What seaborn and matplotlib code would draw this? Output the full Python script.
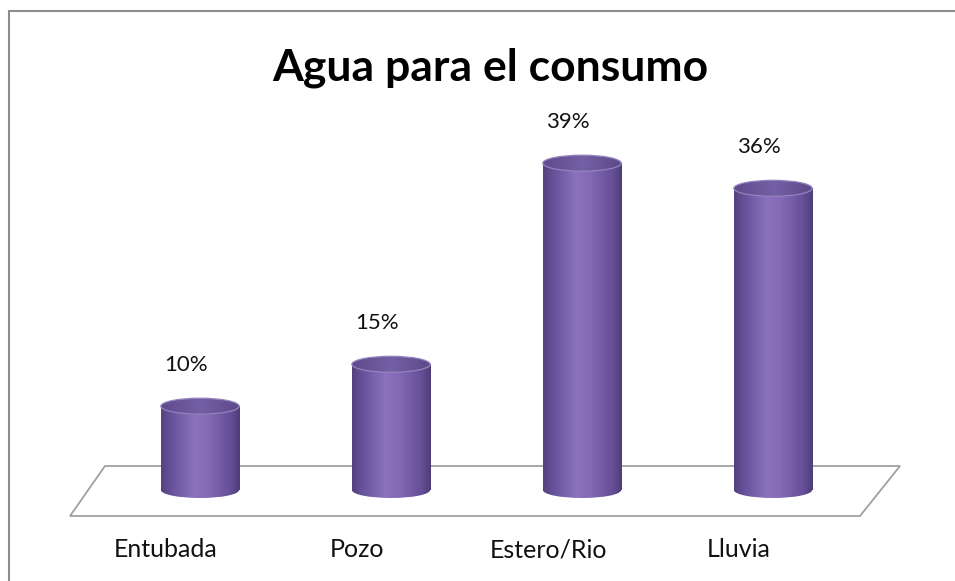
import numpy as np
import pandas as pd
import matplotlib
matplotlib.use("Agg")
import matplotlib.pyplot as plt
import matplotlib.transforms as mtransforms
import seaborn as sns
from matplotlib.patches import Ellipse, Polygon
from matplotlib.colors import LinearSegmentedColormap
from matplotlib.lines import Line2D

categories = ["Entubada", "Pozo", "Estero/Rio", "Lluvia"]
values = [10, 15, 39, 36]
value_labels = ["10%", "15%", "39%", "36%"]
title = "Agua para el consumo"

sns.set_theme(style="white")
plt.rcParams["font.family"] = ["Lato", "DejaVu Sans"]

W, H = 955, 581
fig = plt.figure(figsize=(W / 100, H / 100), dpi=100)
fig.patch.set_facecolor("white")

# pixel mapping
x0px, dxpx = 200.0, 191.0
y0px, sy = 490.0, 8.38
ax_bottom_px = 530.0
ax = fig.add_axes([0, 1 - ax_bottom_px / H, 1, ax_bottom_px / H])

def px(xp, yp):
    return ((xp - x0px) / dxpx, (y0px - yp) / sy)

df = pd.DataFrame({"cat": categories, "val": values})
bw = 0.41
sns.barplot(data=df, x="cat", y="val", order=categories, width=bw,
            color="#7a62a8", ax=ax, zorder=2, linewidth=0)
ax.set_xlim(-x0px / dxpx, (W - x0px) / dxpx)
ax.set_ylim((y0px - ax_bottom_px) / sy, y0px / sy)

# floor
floor = Polygon([px(105, 466), px(900, 466), px(860, 516), px(70, 516)],
                closed=True, facecolor="white", edgecolor="#a0a0a0", lw=1.3, zorder=1)
ax.add_patch(floor)

cmap = LinearSegmentedColormap.from_list(
    "cyl", [(0.0, "#54417c"), (0.12, "#65509a"), (0.42, "#8c72bd"),
            (0.6, "#8469b4"), (0.88, "#654f97"), (1.0, "#4f3d78")])
cmap_top = LinearSegmentedColormap.from_list(
    "cyltop", [(0.0, "#5e4a8c"), (0.5, "#7460a4"), (1.0, "#5c4888")])
grad = np.linspace(0, 1, 256).reshape(1, -1)
ell_h = 16.0 / sy

lbl_off = mtransforms.ScaledTranslation(-14 / 100, 0, fig.dpi_scale_trans)
for i, p in enumerate(ax.containers[0].patches):
    x = p.get_x(); w = p.get_width(); h = p.get_height()
    p.set_alpha(0)
    # body gradient
    im = ax.imshow(grad, cmap=cmap, aspect="auto",
                   extent=(x, x + w, -ell_h / 2 - 0.2, h), zorder=3)
    body = plt.Rectangle((x, 0), w, h, transform=ax.transData)
    im.set_clip_path(body)
    im2 = ax.imshow(grad, cmap=cmap, aspect="auto",
                    extent=(x, x + w, -ell_h / 2 - 0.2, 0.5), zorder=3)
    bot = Ellipse((x + w / 2, 0), w, ell_h, transform=ax.transData)
    im2.set_clip_path(bot)
    # top cap
    im3 = ax.imshow(grad, cmap=cmap_top, aspect="auto",
                    extent=(x, x + w, h - ell_h / 2, h + ell_h / 2), zorder=4)
    top = Ellipse((x + w / 2, h), w, ell_h, transform=ax.transData)
    im3.set_clip_path(top)
    ax.add_patch(Ellipse((x + w / 2, h), w, ell_h, facecolor="none",
                         edgecolor="#9483bd", lw=0.9, zorder=5))
    ax.text(x + w / 2, h + 4.9, value_labels[i], ha="center", va="center",
            fontsize=16, color="#111111", zorder=6,
            transform=ax.transData + lbl_off)

ax.set_xlim(-x0px / dxpx, (W - x0px) / dxpx)
ax.set_ylim((y0px - ax_bottom_px) / sy, y0px / sy)
ax.set_xlabel(""); ax.set_ylabel("")
ax.set_yticks([])
ax.set_xticks(range(len(categories)))
ax.set_xticklabels(categories, fontsize=18, color="#111111")
ax.tick_params(axis="x", length=0, pad=6)
tick_off = mtransforms.ScaledTranslation(-34 / 100, 0, fig.dpi_scale_trans)
for t in ax.get_xticklabels():
    t.set_transform(t.get_transform() + tick_off)
for s in ax.spines.values():
    s.set_visible(False)
ax.set_facecolor("none")

fig.text(490 / W, 1 - 68 / H, title, ha="center", va="center",
         fontsize=32, fontweight="bold", color="#000000")

# outer frame lines (top and left)
fig.add_artist(Line2D([9 / W, 1], [1 - 11 / H, 1 - 11 / H], transform=fig.transFigure,
                      color="#8c8c8c", lw=1.5))
fig.add_artist(Line2D([9 / W, 9 / W], [0, 1 - 11 / H], transform=fig.transFigure,
                      color="#8c8c8c", lw=1.5))

fig.savefig("out.png", dpi=100, facecolor="white")
